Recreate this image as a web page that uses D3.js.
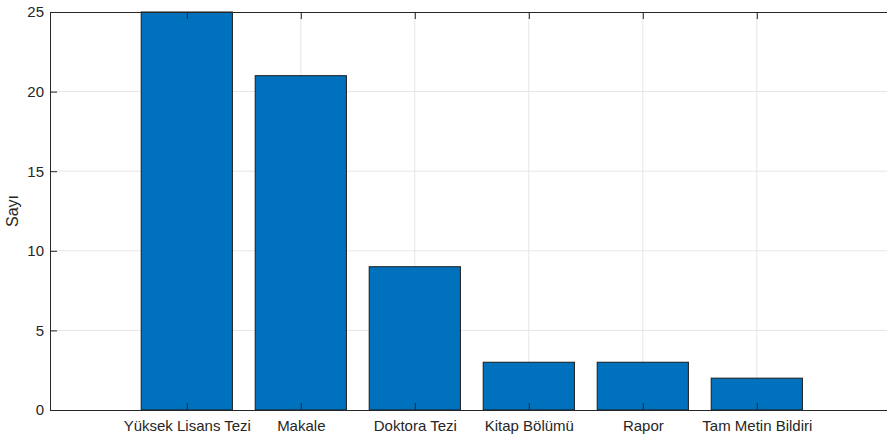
<!DOCTYPE html>
<html>
<head>
<meta charset="utf-8">
<script src="https://cdn.jsdelivr.net/npm/d3@7"></script>
<style>
  body { margin: 0; background: #fff; }
  svg { display: block; font-family: "Liberation Sans", Arial, sans-serif; }
</style>
</head>
<body>
<div id="chart"></div>
<script>
// Data
const categories = ['Yüksek Lisans Tezi', 'Makale', 'Doktora Tezi', 'Kitap Bölümü', 'Rapor', 'Tam Metin Bildiri'];
const counts = [25, 21, 9, 3, 3, 2];
const yTicks = [0, 5, 10, 15, 20, 25];

const svgWidth = 887;
const svgHeight = 437;
const plotLeft = 50, plotTop = 12, plotBottom = 410;
const axisColor = '#262626';

const svg = d3.select('#chart')
  .append('svg')
  .attr('width', svgWidth)
  .attr('height', svgHeight);

// Scales (bars sit at positions 1..6, the right edge runs past the window)
const x = d3.scaleLinear().domain([-0.2, 7.2]).range([plotLeft, plotLeft + 114 * 7.4]);
const y = d3.scaleLinear().domain([0, 25]).range([plotBottom, plotTop]);
const xRight = x(7.2);

// Grid lines
svg.append('g')
  .selectAll('line')
  .data(yTicks.slice(1, -1))
  .enter()
  .append('line')
  .attr('x1', plotLeft)
  .attr('x2', xRight)
  .attr('y1', d => y(d))
  .attr('y2', d => y(d))
  .style('stroke', '#e6e6e6')
  .style('stroke-width', 1);

svg.append('g')
  .selectAll('line')
  .data(categories)
  .enter()
  .append('line')
  .attr('x1', (d, i) => x(i + 1))
  .attr('x2', (d, i) => x(i + 1))
  .attr('y1', plotTop)
  .attr('y2', plotBottom)
  .style('stroke', '#e6e6e6')
  .style('stroke-width', 1);

// Bars
const barW = x(0.8) - x(0);
svg.append('g')
  .selectAll('rect')
  .data(counts)
  .enter()
  .append('rect')
  .attr('x', (d, i) => x(i + 1) - barW / 2)
  .attr('y', d => y(d))
  .attr('width', barW)
  .attr('height', d => y(0) - y(d))
  .style('fill', '#0072BD')
  .style('stroke', '#1a1a1a')
  .style('stroke-width', 1);

// Axes (ticks point inward like MATLAB)
const xAxis = d3.axisBottom(x)
  .tickValues(d3.range(1, categories.length + 1))
  .tickFormat(d => categories[d - 1])
  .tickSizeInner(-7)
  .tickSizeOuter(0)
  .tickPadding(10);

const gx = svg.append('g')
  .attr('transform', 'translate(0,' + plotBottom + ')')
  .call(xAxis);

const xTop = d3.axisTop(x)
  .tickValues(d3.range(1, categories.length + 1))
  .tickFormat('')
  .tickSizeInner(-7)
  .tickSizeOuter(0);

const gxTop = svg.append('g')
  .attr('transform', 'translate(0,' + plotTop + ')')
  .call(xTop);

const yAxis = d3.axisLeft(y)
  .tickValues(yTicks)
  .tickSizeInner(-7)
  .tickSizeOuter(0)
  .tickPadding(6);

const gy = svg.append('g')
  .attr('transform', 'translate(' + plotLeft + ',0)')
  .call(yAxis);

[gx, gxTop, gy].forEach(g => {
  g.select('.domain').style('stroke', axisColor).style('stroke-width', 1);
  g.selectAll('.tick line').style('stroke', axisColor);
  g.selectAll('.tick text')
    .style('fill', axisColor)
    .style('font-size', '15px')
    .style('font-family', '"Liberation Sans", Arial, sans-serif');
});

// Y label
svg.append('text')
  .attr('transform', 'translate(18,' + (plotTop + plotBottom) / 2 + ') rotate(-90)')
  .attr('text-anchor', 'middle')
  .style('font-size', '16px')
  .style('fill', axisColor)
  .text('Sayı');
</script>
</body>
</html>
